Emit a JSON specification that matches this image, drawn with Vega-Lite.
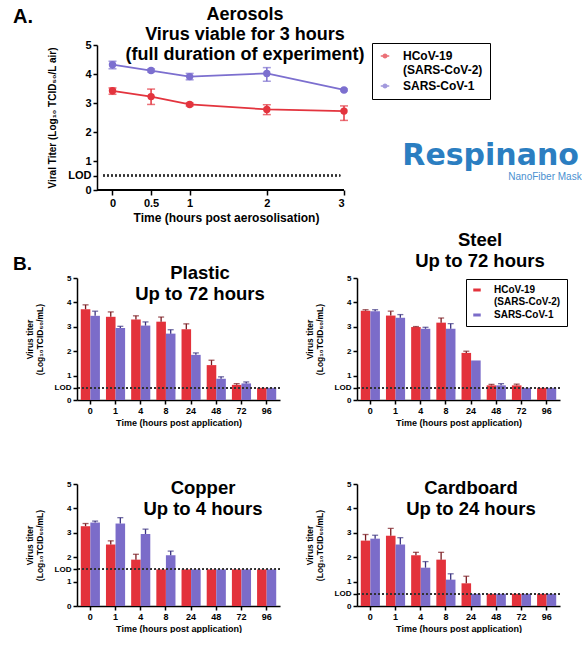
{
  "$schema": "https://vega.github.io/schema/vega-lite/v6.json",
  "background": "white",
  "padding": {"left": 13, "top": 6, "right": 0, "bottom": 0},
  "columns": 1,
  "spacing": 7,
  "resolve": {"scale": {"color": "independent", "stroke": "independent", "fill": "independent"}},
  "datasets": {
    "aero": [
      {"t": 0, "virus": "HCoV-19 (SARS-CoV-2)", "v": 3.42, "lo": 3.3, "hi": 3.52},
      {"t": 0.5, "virus": "HCoV-19 (SARS-CoV-2)", "v": 3.22, "lo": 2.95, "hi": 3.48},
      {"t": 1, "virus": "HCoV-19 (SARS-CoV-2)", "v": 2.95, "lo": 2.9, "hi": 3.0},
      {"t": 2, "virus": "HCoV-19 (SARS-CoV-2)", "v": 2.78, "lo": 2.6, "hi": 2.94},
      {"t": 3, "virus": "HCoV-19 (SARS-CoV-2)", "v": 2.72, "lo": 2.4, "hi": 2.9},
      {"t": 0, "virus": "SARS-CoV-1", "v": 4.32, "lo": 4.18, "hi": 4.44},
      {"t": 0.5, "virus": "SARS-CoV-1", "v": 4.12, "lo": 4.07, "hi": 4.17},
      {"t": 1, "virus": "SARS-CoV-1", "v": 3.91, "lo": 3.8, "hi": 4.02},
      {"t": 2, "virus": "SARS-CoV-1", "v": 4.02, "lo": 3.75, "hi": 4.22},
      {"t": 3, "virus": "SARS-CoV-1", "v": 3.45, "lo": 3.42, "hi": 3.48}
    ],
    "logo": [
      {"brand": "Respinano", "tag": "NanoFiber Mask"}
    ],
    "surf": [
      {"s": "Plastic", "time": "0", "virus": "HCoV-19 (SARS-CoV-2)", "v": 3.72, "hi": 3.9},
      {"s": "Plastic", "time": "0", "virus": "SARS-CoV-1", "v": 3.45, "hi": 3.64},
      {"s": "Plastic", "time": "1", "virus": "HCoV-19 (SARS-CoV-2)", "v": 3.41, "hi": 3.61},
      {"s": "Plastic", "time": "1", "virus": "SARS-CoV-1", "v": 2.95, "hi": 3.02},
      {"s": "Plastic", "time": "4", "virus": "HCoV-19 (SARS-CoV-2)", "v": 3.3, "hi": 3.45},
      {"s": "Plastic", "time": "4", "virus": "SARS-CoV-1", "v": 3.05, "hi": 3.2},
      {"s": "Plastic", "time": "8", "virus": "HCoV-19 (SARS-CoV-2)", "v": 3.21, "hi": 3.4},
      {"s": "Plastic", "time": "8", "virus": "SARS-CoV-1", "v": 2.72, "hi": 2.88},
      {"s": "Plastic", "time": "24", "virus": "HCoV-19 (SARS-CoV-2)", "v": 2.9, "hi": 3.12},
      {"s": "Plastic", "time": "24", "virus": "SARS-CoV-1", "v": 1.85, "hi": 1.93},
      {"s": "Plastic", "time": "48", "virus": "HCoV-19 (SARS-CoV-2)", "v": 1.43, "hi": 1.63},
      {"s": "Plastic", "time": "48", "virus": "SARS-CoV-1", "v": 0.87, "hi": 0.95},
      {"s": "Plastic", "time": "72", "virus": "HCoV-19 (SARS-CoV-2)", "v": 0.62, "hi": 0.67},
      {"s": "Plastic", "time": "72", "virus": "SARS-CoV-1", "v": 0.68, "hi": 0.74},
      {"s": "Plastic", "time": "96", "virus": "HCoV-19 (SARS-CoV-2)", "v": 0.5, "hi": 0.5},
      {"s": "Plastic", "time": "96", "virus": "SARS-CoV-1", "v": 0.5, "hi": 0.5},
      {"s": "Steel", "time": "0", "virus": "HCoV-19 (SARS-CoV-2)", "v": 3.66, "hi": 3.7},
      {"s": "Steel", "time": "0", "virus": "SARS-CoV-1", "v": 3.64, "hi": 3.7},
      {"s": "Steel", "time": "1", "virus": "HCoV-19 (SARS-CoV-2)", "v": 3.46, "hi": 3.64},
      {"s": "Steel", "time": "1", "virus": "SARS-CoV-1", "v": 3.37, "hi": 3.5},
      {"s": "Steel", "time": "4", "virus": "HCoV-19 (SARS-CoV-2)", "v": 2.99, "hi": 3.01},
      {"s": "Steel", "time": "4", "virus": "SARS-CoV-1", "v": 2.92, "hi": 2.98},
      {"s": "Steel", "time": "8", "virus": "HCoV-19 (SARS-CoV-2)", "v": 3.17, "hi": 3.36},
      {"s": "Steel", "time": "8", "virus": "SARS-CoV-1", "v": 2.92, "hi": 3.13},
      {"s": "Steel", "time": "24", "virus": "HCoV-19 (SARS-CoV-2)", "v": 1.93, "hi": 2.0},
      {"s": "Steel", "time": "24", "virus": "SARS-CoV-1", "v": 1.62, "hi": 1.62},
      {"s": "Steel", "time": "48", "virus": "HCoV-19 (SARS-CoV-2)", "v": 0.6, "hi": 0.64},
      {"s": "Steel", "time": "48", "virus": "SARS-CoV-1", "v": 0.6, "hi": 0.67},
      {"s": "Steel", "time": "72", "virus": "HCoV-19 (SARS-CoV-2)", "v": 0.6, "hi": 0.65},
      {"s": "Steel", "time": "72", "virus": "SARS-CoV-1", "v": 0.5, "hi": 0.5},
      {"s": "Steel", "time": "96", "virus": "HCoV-19 (SARS-CoV-2)", "v": 0.5, "hi": 0.5},
      {"s": "Steel", "time": "96", "virus": "SARS-CoV-1", "v": 0.5, "hi": 0.5},
      {"s": "Copper", "time": "0", "virus": "HCoV-19 (SARS-CoV-2)", "v": 3.27, "hi": 3.38},
      {"s": "Copper", "time": "0", "virus": "SARS-CoV-1", "v": 3.42, "hi": 3.48},
      {"s": "Copper", "time": "1", "virus": "HCoV-19 (SARS-CoV-2)", "v": 2.52, "hi": 2.67},
      {"s": "Copper", "time": "1", "virus": "SARS-CoV-1", "v": 3.38, "hi": 3.62},
      {"s": "Copper", "time": "4", "virus": "HCoV-19 (SARS-CoV-2)", "v": 1.9, "hi": 2.12},
      {"s": "Copper", "time": "4", "virus": "SARS-CoV-1", "v": 2.95, "hi": 3.15},
      {"s": "Copper", "time": "8", "virus": "HCoV-19 (SARS-CoV-2)", "v": 1.5, "hi": 1.5},
      {"s": "Copper", "time": "8", "virus": "SARS-CoV-1", "v": 2.08, "hi": 2.25},
      {"s": "Copper", "time": "24", "virus": "HCoV-19 (SARS-CoV-2)", "v": 1.5, "hi": 1.5},
      {"s": "Copper", "time": "24", "virus": "SARS-CoV-1", "v": 1.5, "hi": 1.5},
      {"s": "Copper", "time": "48", "virus": "HCoV-19 (SARS-CoV-2)", "v": 1.5, "hi": 1.5},
      {"s": "Copper", "time": "48", "virus": "SARS-CoV-1", "v": 1.5, "hi": 1.5},
      {"s": "Copper", "time": "72", "virus": "HCoV-19 (SARS-CoV-2)", "v": 1.5, "hi": 1.5},
      {"s": "Copper", "time": "72", "virus": "SARS-CoV-1", "v": 1.5, "hi": 1.5},
      {"s": "Copper", "time": "96", "virus": "HCoV-19 (SARS-CoV-2)", "v": 1.5, "hi": 1.5},
      {"s": "Copper", "time": "96", "virus": "SARS-CoV-1", "v": 1.5, "hi": 1.5},
      {"s": "Cardboard", "time": "0", "virus": "HCoV-19 (SARS-CoV-2)", "v": 2.68, "hi": 2.93},
      {"s": "Cardboard", "time": "0", "virus": "SARS-CoV-1", "v": 2.76, "hi": 2.9},
      {"s": "Cardboard", "time": "1", "virus": "HCoV-19 (SARS-CoV-2)", "v": 2.88, "hi": 3.18},
      {"s": "Cardboard", "time": "1", "virus": "SARS-CoV-1", "v": 2.52, "hi": 2.8},
      {"s": "Cardboard", "time": "4", "virus": "HCoV-19 (SARS-CoV-2)", "v": 2.08, "hi": 2.2},
      {"s": "Cardboard", "time": "4", "virus": "SARS-CoV-1", "v": 1.57, "hi": 1.82},
      {"s": "Cardboard", "time": "8", "virus": "HCoV-19 (SARS-CoV-2)", "v": 1.9, "hi": 2.2},
      {"s": "Cardboard", "time": "8", "virus": "SARS-CoV-1", "v": 1.08, "hi": 1.32},
      {"s": "Cardboard", "time": "24", "virus": "HCoV-19 (SARS-CoV-2)", "v": 0.93, "hi": 1.22},
      {"s": "Cardboard", "time": "24", "virus": "SARS-CoV-1", "v": 0.5, "hi": 0.5},
      {"s": "Cardboard", "time": "48", "virus": "HCoV-19 (SARS-CoV-2)", "v": 0.5, "hi": 0.5},
      {"s": "Cardboard", "time": "48", "virus": "SARS-CoV-1", "v": 0.5, "hi": 0.5},
      {"s": "Cardboard", "time": "72", "virus": "HCoV-19 (SARS-CoV-2)", "v": 0.5, "hi": 0.5},
      {"s": "Cardboard", "time": "72", "virus": "SARS-CoV-1", "v": 0.5, "hi": 0.5},
      {"s": "Cardboard", "time": "96", "virus": "HCoV-19 (SARS-CoV-2)", "v": 0.5, "hi": 0.5},
      {"s": "Cardboard", "time": "96", "virus": "SARS-CoV-1", "v": 0.5, "hi": 0.5}
    ]
  },
  "concat": [
    {
      "title": {"text": "A.", "anchor": "start", "frame": "group", "dx": -64, "offset": -21, "fontSize": 20},
      "hconcat": [
        {
          "width": 267,
          "height": 145,
          "title": {"text": ["Aerosols", "Virus viable for 3 hours", "(full duration of experiment)"], "fontSize": 18, "lineHeight": 20, "anchor": "middle", "frame": "group", "dx": 34.5, "offset": -25},
          "data": {"name": "aero"},
          "layer": [
            {"mark": {"type": "rule", "strokeDash": [1.5, 2.5], "strokeWidth": 1.6, "color": "#333"}, "encoding": {"x": {"datum": -0.12}, "x2": {"datum": 2.95}, "y": {"datum": 0.5}}},
            {"mark": {"type": "rule", "strokeWidth": 1.5, "color": "#000"}, "encoding": {"x": {"datum": -0.2}, "x2": {"datum": 3}, "y": {"datum": 0}}},
            {
              "mark": {"type": "line", "strokeWidth": 1.8},
              "encoding": {
                "x": {"field": "t", "type": "quantitative", "scale": {"domain": [-0.46, 3], "nice": false, "zero": false},
                  "axis": {"values": [0, 0.5, 1, 2, 3], "tickCount": 20, "format": "~g", "domain": false, "labelOverlap": false, "title": "Time (hours post aerosolisation)", "titleX": 149, "labelFontSize": 11, "titleFontSize": 12, "tickSize": 5, "titlePadding": 4}},
                "y": {"field": "v", "type": "quantitative", "scale": {"domain": [0, 5], "nice": false},
                  "axis": {"values": [0, 0.5, 1, 2, 3, 4, 5], "tickCount": 20, "offset": -20, "format": "~g", "labelOverlap": false, "labelExpr": "datum.value == 0.5 ? 'LOD' : datum.label", "title": "Viral Titer (Log₁₀ TCID₅₀/L air)", "labelFontSize": 11, "titleFontSize": 10, "titlePadding": 10}},
                "color": {"field": "virus", "type": "nominal", "scale": {"domain": ["HCoV-19 (SARS-CoV-2)", "SARS-CoV-1"], "range": ["#e3343e", "#7c6fcf"]},
                  "legend": {"title": null, "orient": "none", "legendX": 295, "legendY": -2, "strokeColor": "#000", "padding": 7, "labelFontSize": 12, "labelFontWeight": "bold", "labelExpr": "datum.label == 'HCoV-19 (SARS-CoV-2)' ? ['HCoV-19', '(SARS-CoV-2)'] : datum.label", "symbolType": "M-1,0H1M0.42,0A0.42,0.42,0,1,1,-0.42,0A0.42,0.42,0,1,1,0.42,0Z", "symbolSize": 72, "symbolStrokeWidth": 1.5, "rowPadding": 4, "labelOffset": 12}}
              }
            },
            {
              "mark": {"type": "errorbar", "ticks": {"size": 8, "thickness": 1.5}, "thickness": 1.5},
              "encoding": {
                "x": {"field": "t", "type": "quantitative"},
                "y": {"field": "lo", "type": "quantitative", "title": "Viral Titer (Log₁₀ TCID₅₀/L air)"},
                "y2": {"field": "hi"},
                "color": {"field": "virus", "type": "nominal"}
              }
            },
            {
              "mark": {"type": "point", "filled": true, "size": 55, "opacity": 1},
              "encoding": {
                "x": {"field": "t", "type": "quantitative"},
                "y": {"field": "v", "type": "quantitative"},
                "color": {"field": "virus", "type": "nominal"}
              }
            },
            {
              "data": {"name": "logo"},
              "mark": {"type": "text", "font": "DejaVu Sans", "fontWeight": "bold", "fontSize": 30, "color": "#2b7ec1", "align": "center", "baseline": "alphabetic"},
              "encoding": {"x": {"datum": 4.9}, "y": {"datum": 0.86}, "text": {"field": "brand"}}
            },
            {
              "data": {"name": "logo"},
              "mark": {"type": "text", "font": "Liberation Sans", "fontSize": 10, "color": "#4a90d0", "align": "right", "baseline": "alphabetic"},
              "encoding": {"x": {"datum": 6.08}, "y": {"datum": 0.33}, "text": {"field": "tag"}}
            }
          ]
        }
      ]
    },
    {
      "title": {"text": "B.", "anchor": "start", "frame": "group", "dx": -64, "offset": -43, "fontSize": 19},
      "columns": 2,
      "bounds": "flush",
      "spacing": {"row": 84, "column": 77},
      "resolve": {"scale": {"color": "independent"}},
      "concat": [
        {
          "width": 203, "height": 122,
          "title": {"text": ["Plastic", "Up to 72 hours"], "fontSize": 18.5, "lineHeight": 21, "anchor": "middle", "frame": "group", "dx": 21.5, "offset": -29},
          "data": {"name": "surf"},
          "transform": [{"filter": "datum.s === 'Plastic'"}],
          "layer": [
            {"mark": {"type": "bar"},
              "encoding": {
                "x": {"field": "time", "type": "nominal", "sort": ["0", "1", "4", "8", "24", "48", "72", "96"], "scale": {"paddingInner": 0.24, "paddingOuter": 0.15}, "axis": {"title": "Time (hours post application)", "labelAngle": 0, "labelFontSize": 9, "titleFontSize": 9, "titlePadding": 3}},
                "xOffset": {"field": "virus", "type": "nominal", "sort": ["HCoV-19 (SARS-CoV-2)", "SARS-CoV-1"]},
                "y": {"field": "v", "type": "quantitative", "scale": {"domain": [0, 5], "nice": false}, "axis": {"values": [0, 0.5, 1, 2, 3, 4, 5], "tickCount": 20, "format": "~g", "labelOverlap": false, "labelExpr": "datum.value == 0.5 ? 'LOD' : datum.label", "title": ["Virus titer", "(Log₁₀TCID₅₀/mL)"], "labelFontSize": 8, "titleFontSize": 8.5, "titleLineHeight": 10, "titlePadding": 10}},
                "color": {"field": "virus", "type": "nominal", "scale": {"domain": ["HCoV-19 (SARS-CoV-2)", "SARS-CoV-1"], "range": ["#e3323b", "#7b6cc9"]}, "legend": null}
              }},
            {"transform": [{"filter": "datum.hi > datum.v"}], "mark": {"type": "rule", "strokeWidth": 1.3},
              "encoding": {
                "x": {"field": "time", "type": "nominal", "sort": ["0", "1", "4", "8", "24", "48", "72", "96"]},
                "xOffset": {"field": "virus", "type": "nominal", "sort": ["HCoV-19 (SARS-CoV-2)", "SARS-CoV-1"]},
                "y": {"field": "v", "type": "quantitative"}, "y2": {"field": "hi"},
                "stroke": {"field": "virus", "type": "nominal", "scale": {"domain": ["HCoV-19 (SARS-CoV-2)", "SARS-CoV-1"], "range": ["#7a1a20", "#3a3280"]}, "legend": null}
              }},
            {"transform": [{"filter": "datum.hi > datum.v"}], "mark": {"type": "tick", "size": 6, "thickness": 1.3, "orient": "horizontal"},
              "encoding": {
                "x": {"field": "time", "type": "nominal", "sort": ["0", "1", "4", "8", "24", "48", "72", "96"]},
                "xOffset": {"field": "virus", "type": "nominal", "sort": ["HCoV-19 (SARS-CoV-2)", "SARS-CoV-1"]},
                "y": {"field": "hi", "type": "quantitative"},
                "fill": {"field": "virus", "type": "nominal", "scale": {"domain": ["HCoV-19 (SARS-CoV-2)", "SARS-CoV-1"], "range": ["#7a1a20", "#3a3280"]}, "legend": null}
              }},
            {"mark": {"type": "rule", "strokeDash": [1.5, 2.5], "strokeWidth": 1.4, "color": "#333"}, "encoding": {"y": {"datum": 0.5}}}
          ]
        },
        {
          "width": 203, "height": 122,
          "title": {"text": ["Steel", "Up to 72 hours"], "fontSize": 18.5, "lineHeight": 21, "anchor": "middle", "frame": "group", "dx": 21.5, "offset": 4},
          "data": {"name": "surf"},
          "transform": [{"filter": "datum.s === 'Steel'"}],
          "layer": [
            {"mark": {"type": "bar"},
              "encoding": {
                "x": {"field": "time", "type": "nominal", "sort": ["0", "1", "4", "8", "24", "48", "72", "96"], "scale": {"paddingInner": 0.24, "paddingOuter": 0.15}, "axis": {"title": "Time (hours post application)", "labelAngle": 0, "labelFontSize": 9, "titleFontSize": 9, "titlePadding": 3}},
                "xOffset": {"field": "virus", "type": "nominal", "sort": ["HCoV-19 (SARS-CoV-2)", "SARS-CoV-1"]},
                "y": {"field": "v", "type": "quantitative", "scale": {"domain": [0, 5], "nice": false}, "axis": {"values": [0, 0.5, 1, 2, 3, 4, 5], "tickCount": 20, "format": "~g", "labelOverlap": false, "labelExpr": "datum.value == 0.5 ? 'LOD' : datum.label", "title": ["Virus titer", "(Log₁₀TCID₅₀/mL)"], "labelFontSize": 8, "titleFontSize": 8.5, "titleLineHeight": 10, "titlePadding": 10}},
                "color": {"field": "virus", "type": "nominal", "scale": {"domain": ["HCoV-19 (SARS-CoV-2)", "SARS-CoV-1"], "range": ["#e3323b", "#7b6cc9"]},
                  "legend": {"title": null, "orient": "none", "legendX": 109, "legendY": 1, "strokeColor": "#000", "padding": 6, "labelFontSize": 10, "labelFontWeight": "bold", "labelExpr": "datum.label == 'HCoV-19 (SARS-CoV-2)' ? ['HCoV-19', '(SARS-CoV-2)'] : datum.label", "symbolType": "M-1,-0.4H1V0.4H-1Z", "symbolSize": 56, "symbolStrokeWidth": 0, "rowPadding": 3, "labelOffset": 12}}
              }},
            {"transform": [{"filter": "datum.hi > datum.v"}], "mark": {"type": "rule", "strokeWidth": 1.3},
              "encoding": {
                "x": {"field": "time", "type": "nominal", "sort": ["0", "1", "4", "8", "24", "48", "72", "96"]},
                "xOffset": {"field": "virus", "type": "nominal", "sort": ["HCoV-19 (SARS-CoV-2)", "SARS-CoV-1"]},
                "y": {"field": "v", "type": "quantitative"}, "y2": {"field": "hi"},
                "stroke": {"field": "virus", "type": "nominal", "scale": {"domain": ["HCoV-19 (SARS-CoV-2)", "SARS-CoV-1"], "range": ["#7a1a20", "#3a3280"]}, "legend": null}
              }},
            {"transform": [{"filter": "datum.hi > datum.v"}], "mark": {"type": "tick", "size": 6, "thickness": 1.3, "orient": "horizontal"},
              "encoding": {
                "x": {"field": "time", "type": "nominal", "sort": ["0", "1", "4", "8", "24", "48", "72", "96"]},
                "xOffset": {"field": "virus", "type": "nominal", "sort": ["HCoV-19 (SARS-CoV-2)", "SARS-CoV-1"]},
                "y": {"field": "hi", "type": "quantitative"},
                "fill": {"field": "virus", "type": "nominal", "scale": {"domain": ["HCoV-19 (SARS-CoV-2)", "SARS-CoV-1"], "range": ["#7a1a20", "#3a3280"]}, "legend": null}
              }},
            {"mark": {"type": "rule", "strokeDash": [1.5, 2.5], "strokeWidth": 1.4, "color": "#333"}, "encoding": {"y": {"datum": 0.5}}}
          ]
        },
        {
          "width": 203, "height": 122,
          "title": {"text": ["Copper", "Up to 4 hours"], "fontSize": 18.5, "lineHeight": 21, "anchor": "middle", "frame": "group", "dx": 24.5, "offset": -38},
          "data": {"name": "surf"},
          "transform": [{"filter": "datum.s === 'Copper'"}],
          "layer": [
            {"mark": {"type": "bar"},
              "encoding": {
                "x": {"field": "time", "type": "nominal", "sort": ["0", "1", "4", "8", "24", "48", "72", "96"], "scale": {"paddingInner": 0.24, "paddingOuter": 0.15}, "axis": {"title": "Time (hours post application)", "labelAngle": 0, "labelFontSize": 9, "titleFontSize": 9, "titlePadding": 3}},
                "xOffset": {"field": "virus", "type": "nominal", "sort": ["HCoV-19 (SARS-CoV-2)", "SARS-CoV-1"]},
                "y": {"field": "v", "type": "quantitative", "scale": {"domain": [0, 5], "nice": false}, "axis": {"values": [0, 1, 1.5, 2, 3, 4, 5], "tickCount": 20, "format": "~g", "labelOverlap": false, "labelExpr": "datum.value == 1.5 ? 'LOD' : datum.label", "title": ["Virus titer", "(Log₁₀TCID₅₀/mL)"], "labelFontSize": 8, "titleFontSize": 8.5, "titleLineHeight": 10, "titlePadding": 10}},
                "color": {"field": "virus", "type": "nominal", "scale": {"domain": ["HCoV-19 (SARS-CoV-2)", "SARS-CoV-1"], "range": ["#e3323b", "#7b6cc9"]}, "legend": null}
              }},
            {"transform": [{"filter": "datum.hi > datum.v"}], "mark": {"type": "rule", "strokeWidth": 1.3},
              "encoding": {
                "x": {"field": "time", "type": "nominal", "sort": ["0", "1", "4", "8", "24", "48", "72", "96"]},
                "xOffset": {"field": "virus", "type": "nominal", "sort": ["HCoV-19 (SARS-CoV-2)", "SARS-CoV-1"]},
                "y": {"field": "v", "type": "quantitative"}, "y2": {"field": "hi"},
                "stroke": {"field": "virus", "type": "nominal", "scale": {"domain": ["HCoV-19 (SARS-CoV-2)", "SARS-CoV-1"], "range": ["#7a1a20", "#3a3280"]}, "legend": null}
              }},
            {"transform": [{"filter": "datum.hi > datum.v"}], "mark": {"type": "tick", "size": 6, "thickness": 1.3, "orient": "horizontal"},
              "encoding": {
                "x": {"field": "time", "type": "nominal", "sort": ["0", "1", "4", "8", "24", "48", "72", "96"]},
                "xOffset": {"field": "virus", "type": "nominal", "sort": ["HCoV-19 (SARS-CoV-2)", "SARS-CoV-1"]},
                "y": {"field": "hi", "type": "quantitative"},
                "fill": {"field": "virus", "type": "nominal", "scale": {"domain": ["HCoV-19 (SARS-CoV-2)", "SARS-CoV-1"], "range": ["#7a1a20", "#3a3280"]}, "legend": null}
              }},
            {"mark": {"type": "rule", "strokeDash": [1.5, 2.5], "strokeWidth": 1.4, "color": "#333"}, "encoding": {"y": {"datum": 1.5}}}
          ]
        },
        {
          "width": 203, "height": 122,
          "title": {"text": ["Cardboard", "Up to 24 hours"], "fontSize": 18.5, "lineHeight": 21, "anchor": "middle", "frame": "group", "dx": 12.5, "offset": -38},
          "data": {"name": "surf"},
          "transform": [{"filter": "datum.s === 'Cardboard'"}],
          "layer": [
            {"mark": {"type": "bar"},
              "encoding": {
                "x": {"field": "time", "type": "nominal", "sort": ["0", "1", "4", "8", "24", "48", "72", "96"], "scale": {"paddingInner": 0.24, "paddingOuter": 0.15}, "axis": {"title": "Time (hours post application)", "labelAngle": 0, "labelFontSize": 9, "titleFontSize": 9, "titlePadding": 3}},
                "xOffset": {"field": "virus", "type": "nominal", "sort": ["HCoV-19 (SARS-CoV-2)", "SARS-CoV-1"]},
                "y": {"field": "v", "type": "quantitative", "scale": {"domain": [0, 5], "nice": false}, "axis": {"values": [0, 0.5, 1, 2, 3, 4, 5], "tickCount": 20, "format": "~g", "labelOverlap": false, "labelExpr": "datum.value == 0.5 ? 'LOD' : datum.label", "title": ["Virus titer", "(Log₁₀TCID₅₀/mL)"], "labelFontSize": 8, "titleFontSize": 8.5, "titleLineHeight": 10, "titlePadding": 10}},
                "color": {"field": "virus", "type": "nominal", "scale": {"domain": ["HCoV-19 (SARS-CoV-2)", "SARS-CoV-1"], "range": ["#e3323b", "#7b6cc9"]}, "legend": null}
              }},
            {"transform": [{"filter": "datum.hi > datum.v"}], "mark": {"type": "rule", "strokeWidth": 1.3},
              "encoding": {
                "x": {"field": "time", "type": "nominal", "sort": ["0", "1", "4", "8", "24", "48", "72", "96"]},
                "xOffset": {"field": "virus", "type": "nominal", "sort": ["HCoV-19 (SARS-CoV-2)", "SARS-CoV-1"]},
                "y": {"field": "v", "type": "quantitative"}, "y2": {"field": "hi"},
                "stroke": {"field": "virus", "type": "nominal", "scale": {"domain": ["HCoV-19 (SARS-CoV-2)", "SARS-CoV-1"], "range": ["#7a1a20", "#3a3280"]}, "legend": null}
              }},
            {"transform": [{"filter": "datum.hi > datum.v"}], "mark": {"type": "tick", "size": 6, "thickness": 1.3, "orient": "horizontal"},
              "encoding": {
                "x": {"field": "time", "type": "nominal", "sort": ["0", "1", "4", "8", "24", "48", "72", "96"]},
                "xOffset": {"field": "virus", "type": "nominal", "sort": ["HCoV-19 (SARS-CoV-2)", "SARS-CoV-1"]},
                "y": {"field": "hi", "type": "quantitative"},
                "fill": {"field": "virus", "type": "nominal", "scale": {"domain": ["HCoV-19 (SARS-CoV-2)", "SARS-CoV-1"], "range": ["#7a1a20", "#3a3280"]}, "legend": null}
              }},
            {"mark": {"type": "rule", "strokeDash": [1.5, 2.5], "strokeWidth": 1.4, "color": "#333"}, "encoding": {"y": {"datum": 0.5}}}
          ]
        }
      ]
    }
  ],
  "config": {
    "font": "Liberation Sans",
    "view": {"stroke": null},
    "axis": {"grid": false, "labelOverlap": false, "domainColor": "#000", "tickColor": "#000", "labelColor": "#000", "titleColor": "#000", "labelFontWeight": "bold", "titleFontWeight": "bold", "domainWidth": 1.5, "tickWidth": 1.5, "tickSize": 4, "labelPadding": 2},
    "title": {"font": "Liberation Sans", "fontWeight": "bold", "color": "#000"},
    "legend": {"labelColor": "#000", "labelFont": "Liberation Sans"}
  }
}
